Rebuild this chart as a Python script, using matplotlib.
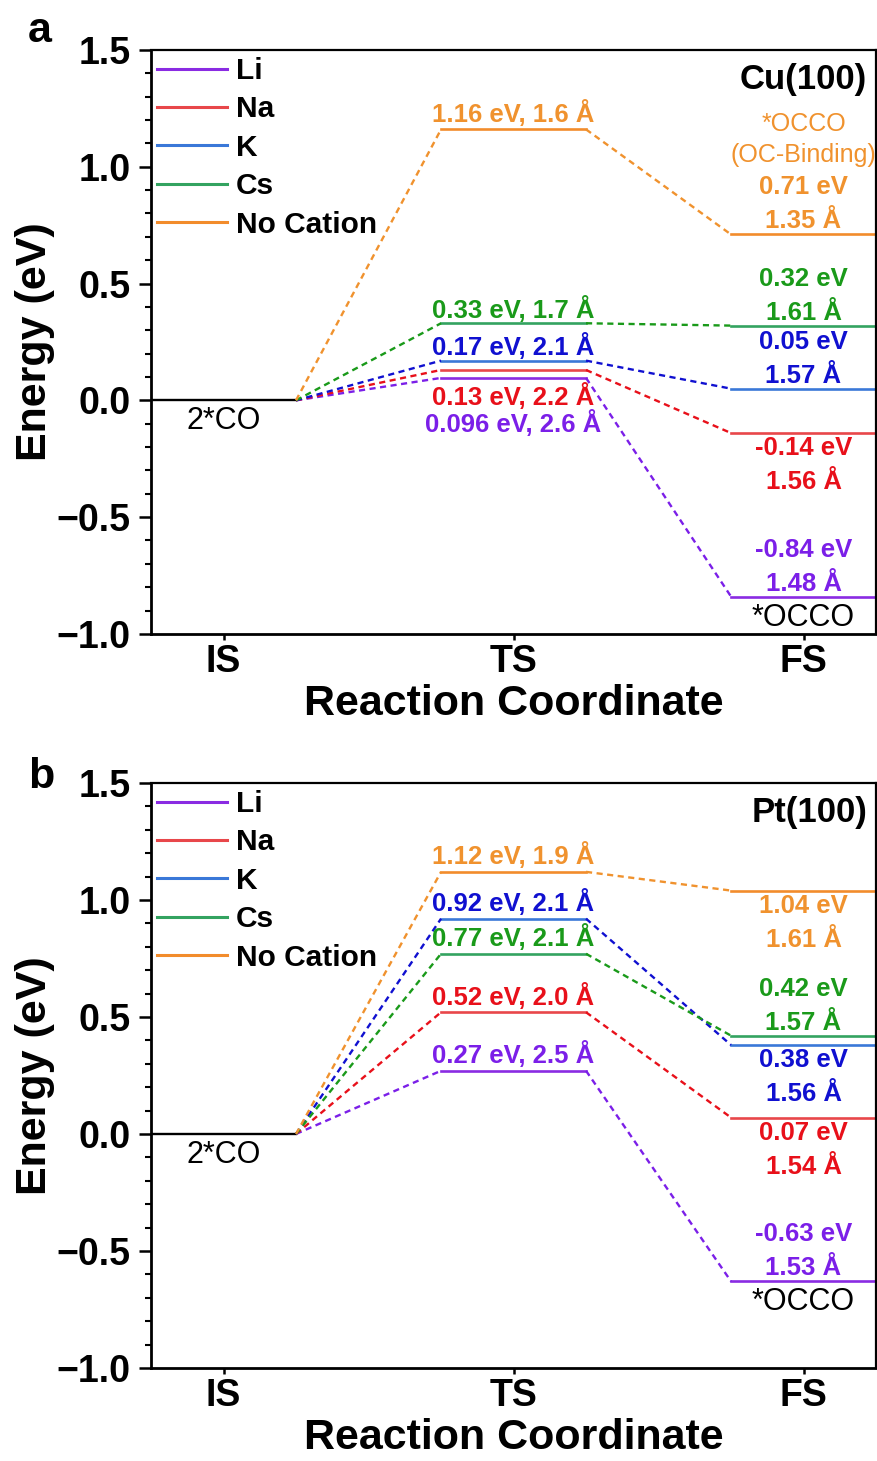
import numpy as np
import matplotlib
matplotlib.use("Agg")
import matplotlib.pyplot as plt
from matplotlib.ticker import MultipleLocator

plt.rcParams['font.family'] = ['Liberation Sans', 'DejaVu Sans']
plt.rcParams['font.weight'] = 'bold'
plt.rcParams['axes.labelweight'] = 'bold'

# energies (eV) and C-C distances (Angstrom) for each cation
cations = ['Li', 'Na', 'K', 'Cs', 'No Cation']

cu_ts = [0.096, 0.13, 0.17, 0.33, 1.16]
cu_ts_dist = [2.6, 2.2, 2.1, 1.7, 1.6]
cu_fs = [-0.84, -0.14, 0.05, 0.32, 0.71]
cu_fs_dist = [1.48, 1.56, 1.57, 1.61, 1.35]

pt_ts = [0.27, 0.52, 0.92, 0.77, 1.12]
pt_ts_dist = [2.5, 2.0, 2.1, 2.1, 1.9]
pt_fs = [-0.63, 0.07, 0.38, 0.42, 1.04]
pt_fs_dist = [1.53, 1.54, 1.56, 1.57, 1.61]

line_cols = ['#8a2be2', '#e8474a', '#3a78d8', '#33a360', '#f28c2c']
text_cols = ['#7b1fe8', '#e8101a', '#1010d0', '#1a9a1a', '#f0922e']

PT = 0.72  # points per pixel at dpi 100
HALF = 0.25
DASH = (0, (2.6, 1.9))


def draw_panel(ax, ts, ts_dist, fs, fs_dist, surface, ts_off, fs_side, note=False):
    ax.plot([1 - HALF, 1 + HALF], [0, 0], color='black', lw=1.7)
    for i, name in enumerate(cations):
        lc, tc = line_cols[i], text_cols[i]
        ax.plot([2 - HALF, 2 + HALF], [ts[i], ts[i]], color=lc, lw=1.9, label=name)
        ax.plot([3 - HALF, 3 + HALF], [fs[i], fs[i]], color=lc, lw=1.9)
        ax.plot([1 + HALF, 2 - HALF], [0, ts[i]], color=tc, lw=1.7, ls=DASH)
        ax.plot([2 + HALF, 3 - HALF], [ts[i], fs[i]], color=tc, lw=1.7, ls=DASH)

        ax.annotate(f"{ts[i]:g} eV, {ts_dist[i]:.1f} Å", xy=(2, ts[i]),
                    xytext=(0, ts_off[i] * PT), textcoords='offset points',
                    ha='center', va='center', color=tc, fontsize=18.5)

        if fs_side[i] > 0:
            offs = [47, 13]
        else:
            offs = [-15, -49]
        for txt, off in zip([f"{fs[i]:g} eV", f"{fs_dist[i]:.2f} Å"], offs):
            ax.annotate(txt, xy=(3, fs[i]), xytext=(0, off * PT),
                        textcoords='offset points', ha='center', va='center',
                        color=tc, fontsize=18.5)

    if note:
        k = cations.index('No Cation')
        for txt, off in zip(['*OCCO', '(OC-Binding)'], [110, 79]):
            ax.annotate(txt, xy=(3, fs[k]), xytext=(0, off * PT),
                        textcoords='offset points', ha='center', va='center',
                        color=text_cols[k], fontsize=18, fontweight='normal')

    ax.annotate('2*CO', xy=(1, 0), xytext=(0, -21 * PT), textcoords='offset points',
                ha='center', va='center', fontsize=22, fontweight='normal')
    ax.annotate('*OCCO', xy=(3, fs[0]), xytext=(0, -21 * PT), textcoords='offset points',
                ha='center', va='center', fontsize=22, fontweight='normal')
    ax.text(0.988, 0.949, surface, transform=ax.transAxes, ha='right', va='center',
            fontsize=25)

    ax.set_xlim(0.75, 3.25)
    ax.set_ylim(-1.0, 1.5)
    ax.set_xticks([1, 2, 3])
    ax.set_xticklabels(['IS', 'TS', 'FS'])
    ax.set_yticks(np.arange(-1.0, 1.51, 0.5))
    ax.yaxis.set_minor_locator(MultipleLocator(0.1))
    ax.tick_params(axis='y', which='major', direction='out', length=8.5, width=1.8,
                   labelsize=27, pad=6)
    ax.tick_params(axis='y', which='minor', direction='out', length=4.5, width=1.5)
    ax.tick_params(axis='x', which='major', direction='out', length=4.5, width=1.8,
                   labelsize=27, pad=3)
    for side in ['left', 'bottom']:
        ax.spines[side].set_linewidth(2.0)
    for side in ['top', 'right']:
        ax.spines[side].set_linewidth(1.6)

    ax.set_ylabel('Energy (eV)', fontsize=31)
    ax.yaxis.set_label_coords(-0.132, 0.5)
    ax.set_xlabel('Reaction Coordinate', fontsize=31)
    ax.xaxis.set_label_coords(0.5, -0.085)

    leg = ax.legend(loc='upper left', bbox_to_anchor=(0.008, 0.988), frameon=False,
                    borderpad=0, borderaxespad=0, handlelength=2.35, handletextpad=0.3,
                    labelspacing=0.35, prop={'size': 21.5, 'weight': 'bold'})
    for h in leg.get_lines():
        h.set_linewidth(2.2)


fig = plt.figure(figsize=(8.77, 14.61), dpi=100)
ax_a = fig.add_axes([0.1722, 0.5661, 0.8267, 0.3997])
ax_b = fig.add_axes([0.1722, 0.0637, 0.8267, 0.4004])

draw_panel(ax_a, cu_ts, cu_ts_dist, cu_fs, cu_fs_dist, 'Cu(100)',
           ts_off=[-46, -27, 14, 14, 16], fs_side=[1, -1, 1, 1, 1], note=True)
draw_panel(ax_b, pt_ts, pt_ts_dist, pt_fs, pt_fs_dist, 'Pt(100)',
           ts_off=[16, 16, 16, 16, 16], fs_side=[1, -1, -1, 1, -1])

fig.text(28 / 877, 1 - 42 / 1461, 'a', fontsize=31, ha='left', va='baseline')
fig.text(28 / 877, 1 - 788 / 1461, 'b', fontsize=31, ha='left', va='baseline')

fig.savefig('out.png', dpi=100)
